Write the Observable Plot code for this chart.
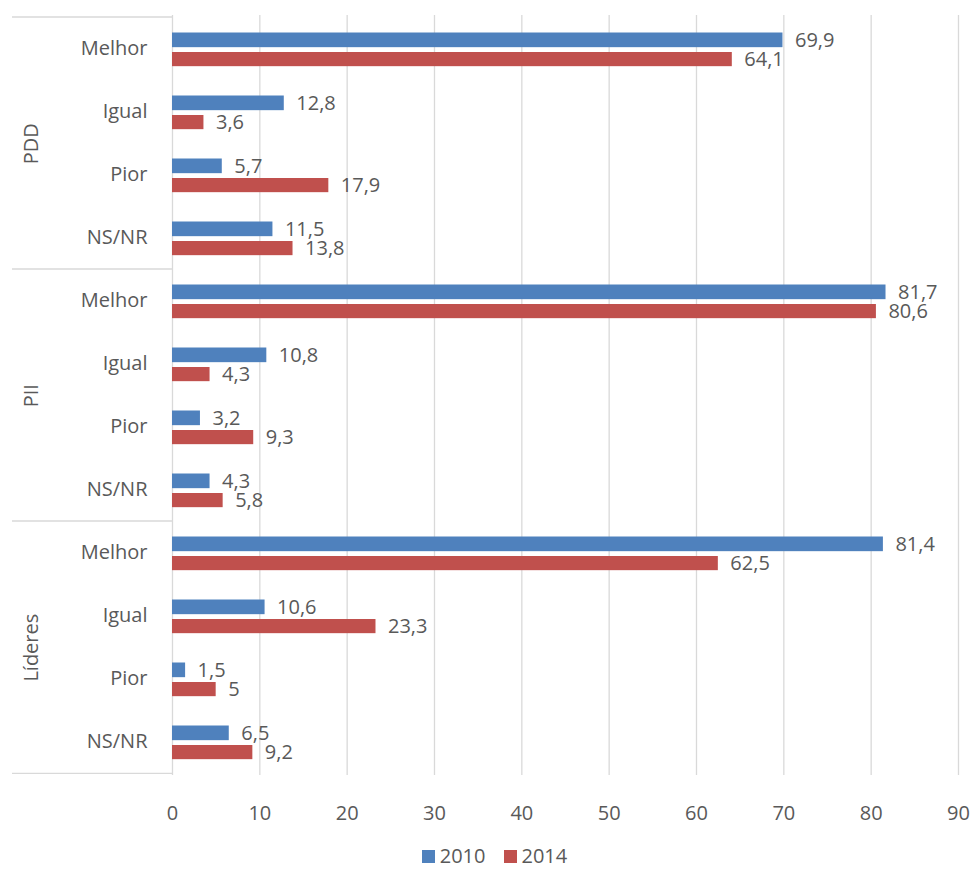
<!DOCTYPE html>
<html>
<head>
<meta charset="utf-8">
<script src="https://cdn.jsdelivr.net/npm/d3@7"></script>
<script src="https://cdn.jsdelivr.net/npm/@observablehq/plot@0.6"></script>
<style>
  body { margin: 0; background: #fff; }
  #chart svg { display: block; }
  #legend { display: flex; justify-content: center; align-items: center; height: 32px; margin-top: 4px;
    font-family: 'Open Sans', sans-serif; font-size: 20px; line-height: 24px; color: #595959; padding-left: 16px; }
  #legend .item { display: flex; align-items: center; margin: 0 9px; }
  #legend .sw { width: 13px; height: 13px; margin-right: 5px; }
</style>
</head>
<body>
<div id="chart"></div>
<div id="legend"></div>
<script>
const groups = ["PDD", "PII", "Líderes"];
const categories = ["Melhor", "Igual", "Pior", "NS/NR"];
const series = ["2010", "2014"];
const colors = ["#4f81bd", "#c0504d"];
const values2010 = [69.9, 12.8, 5.7, 11.5, 81.7, 10.8, 3.2, 4.3, 81.4, 10.6, 1.5, 6.5];
const values2014 = [64.1, 3.6, 17.9, 13.8, 80.6, 4.3, 9.3, 5.8, 62.5, 23.3, 5, 9.2];
const xTickCount = 10;

const keyOf = (g, c) => g + "|" + c;
const keys = groups.flatMap(g => categories.map(c => keyOf(g, c)));
const rows2010 = keys.map((k, i) => ({key: k, series: series[0], value: values2010[i]}));
const rows2014 = keys.map((k, i) => ({key: k, series: series[1], value: values2014[i]}));
const fmt = d => String(d.value).replace(".", ",");

const W = 973, H = 836, mt = 15, mb = 61, ml = 172, mr = 15;
const band = (H - mt - mb) / keys.length;
const textColor = "#595959";

const plot = Plot.plot({
  width: W, height: H,
  marginTop: mt, marginBottom: mb, marginLeft: ml, marginRight: mr,
  style: {fontSize: "20px", fontFamily: "'Open Sans', sans-serif", color: textColor, background: "#fff"},
  x: {domain: [0, 90], ticks: xTickCount, tickSize: 0, tickPadding: 30, label: null},
  y: {domain: keys, padding: 0, tickSize: 0, tickPadding: 25, tickFormat: k => k.split("|")[1], label: null},
  color: {domain: series, range: colors},
  marks: [
    Plot.ruleX(d3.ticks(0, 90, xTickCount), {stroke: "#d9d9d9", strokeWidth: 1.3}),
    Plot.barX(rows2010, {x: "value", y: "key", fill: "series", insetTop: 15.5, insetBottom: band - 30.5}),
    Plot.barX(rows2014, {x: "value", y: "key", fill: "series", insetTop: 35, insetBottom: band - 49.5}),
    Plot.text(rows2010, {x: "value", y: "key", text: fmt, dx: 12, dy: -8.5, textAnchor: "start", fill: textColor}),
    Plot.text(rows2014, {x: "value", y: "key", text: fmt, dx: 12, dy: 11, textAnchor: "start", fill: textColor}),
    Plot.text(groups, {y: g => keyOf(g, categories[1]), text: g => g, frameAnchor: "left", dx: -141, dy: band / 2, rotate: -90, textAnchor: "middle", fill: textColor})
  ]
});
document.getElementById("chart").appendChild(plot);

// group separator lines in the left label area
const ys = plot.scale("y");
const svg = d3.select(plot.tagName.toLowerCase() === "svg" ? plot : plot.querySelector("svg"));
const seps = groups.map(g => ys.apply(keyOf(g, categories[0])));
seps.push(ys.apply(keys[keys.length - 1]) + band);
svg.append("g").selectAll("line").data(seps).join("line")
  .attr("x1", 12).attr("x2", ml).attr("y1", d => d).attr("y2", d => d)
  .attr("stroke", "#d9d9d9").attr("stroke-width", 1.3);

// legend
const legend = d3.select("#legend");
series.forEach((s, i) => {
  const it = legend.append("div").attr("class", "item");
  it.append("div").attr("class", "sw").style("background", colors[i]);
  it.append("span").text(s);
});
</script>
</body>
</html>
